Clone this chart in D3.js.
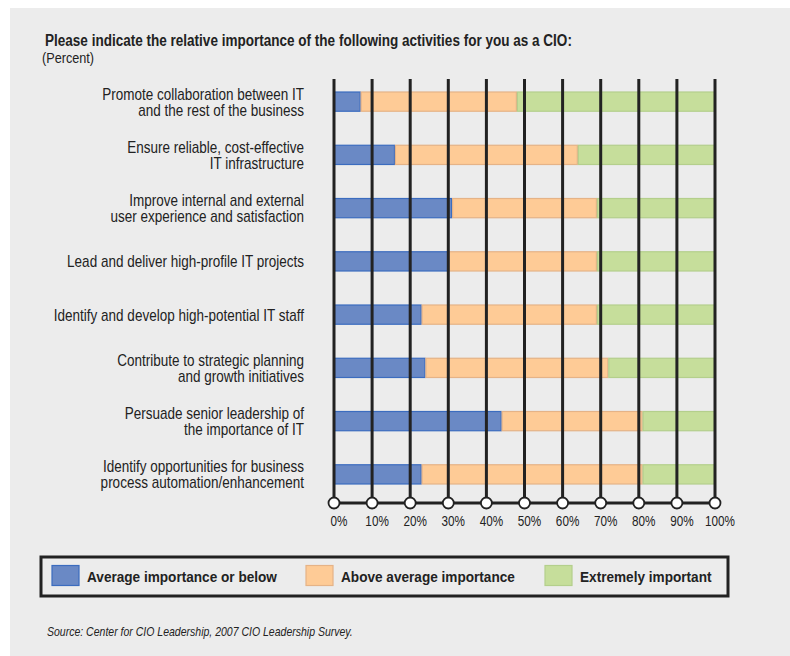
<!DOCTYPE html>
<html>
<head>
<meta charset="utf-8">
<script src="https://cdn.jsdelivr.net/npm/d3@7"></script>
<style>
  body { margin: 0; background: #fff; }
  svg text { font-family: "Liberation Sans", Arial, sans-serif; fill: #222; }
</style>
</head>
<body>
<script>
// categories, top to bottom (two lines each where the original wraps)
var categories = [
  ["Promote collaboration between IT", "and the rest of the business"],
  ["Ensure reliable, cost-effective", "IT infrastructure"],
  ["Improve internal and external", "user experience and satisfaction"],
  ["Lead and deliver high-profile IT projects"],
  ["Identify and develop high-potential IT staff"],
  ["Contribute to strategic planning", "and growth initiatives"],
  ["Persuade senior leadership of", "the importance of IT"],
  ["Identify opportunities for business", "process automation/enhancement"]
];
var seriesNames = ["Average importance or below", "Above average importance", "Extremely important"];
var averageOrBelow = [7, 16, 31, 30, 23, 24, 44, 23];
var aboveAverage   = [41, 48, 38, 39, 46, 48, 37, 58];
var extremely      = [52, 36, 31, 31, 31, 28, 19, 19];
var tickValues = [0, 10, 20, 30, 40, 50, 60, 70, 80, 90, 100];

var titleText = "Please indicate the relative importance of the following activities for you as a CIO:";
var sourceText = "Source: Center for CIO Leadership, 2007 CIO Leadership Survey.";

var fills   = ["#6a89c5", "#fecb96", "#c6de9b"];
var strokes = ["#3b6cbf", "#e5b387", "#b4cf8c"];

var width = 790, height = 656;
var svg = d3.select("body").append("svg")
  .attr("width", width)
  .attr("height", height);

// the original uses a condensed face; squeeze Liberation Sans to match
var measure = function(str, size, weight, style) {
  var t = svg.append("text")
    .style("font-size", size + "px")
    .style("font-weight", weight || "normal")
    .style("font-style", style || "normal")
    .text(str);
  var w = t.node().getComputedTextLength();
  t.remove();
  return w;
};

var addText = function(x, y, str, size, sx, opts) {
  opts = opts || {};
  return svg.append("text")
    .attr("transform", "translate(" + x + "," + y + ") scale(" + sx + ",1)")
    .attr("text-anchor", opts.anchor || "start")
    .style("font-size", size + "px")
    .style("font-weight", opts.weight || "normal")
    .style("font-style", opts.style || "normal")
    .text(str);
};

// panel background
svg.append("rect")
  .attr("x", 10).attr("y", 8)
  .attr("width", width - 10).attr("height", height - 8)
  .attr("fill", "#ececec");

var labelScale  = 202 / measure(categories[0][0], 16);
var titleScale  = 527 / measure(titleText, 17, "bold");
var legendScale = 190 / measure(seriesNames[0], 15.5, "bold");
var tickScale   = 30 / measure("100%", 14);
var sourceScale = 306 / measure(sourceText, 13, "normal", "italic");

// title
addText(45, 46, titleText, 17, titleScale, { weight: "bold" });
addText(42, 63, "(Percent)", 15, labelScale);

var x = d3.scaleLinear().domain([0, 100]).range([334, 715]);
var y = d3.scaleBand()
  .domain(d3.range(categories.length))
  .range([75, 501])
  .paddingInner(0.62)
  .paddingOuter(0.31);

// stacked data
var rows = categories.map(function(c, i) {
  return { i: i, v0: averageOrBelow[i], v1: aboveAverage[i], v2: extremely[i] };
});
var stack = d3.stack().keys(["v0", "v1", "v2"]);
var layers = stack(rows);

var g = svg.append("g");
layers.forEach(function(layer, k) {
  g.selectAll(".bar" + k)
    .data(layer)
    .enter()
    .append("rect")
    .attr("x", function(d) { return x(d[0]) + 0.5; })
    .attr("y", function(d) { return y(d.data.i) + 0.5; })
    .attr("width", function(d) { return x(d[1]) - x(d[0]) - 1; })
    .attr("height", y.bandwidth() - 1)
    .attr("fill", fills[k])
    .attr("stroke", strokes[k])
    .attr("stroke-width", 1.2);
});

// vertical grid lines drawn over the bars
svg.selectAll(".grid")
  .data(tickValues)
  .enter()
  .append("line")
  .attr("x1", function(d) { return x(d); })
  .attr("x2", function(d) { return x(d); })
  .attr("y1", 79)
  .attr("y2", 503)
  .attr("stroke", "#222")
  .attr("stroke-width", 3);

// axis base line
svg.append("line")
  .attr("x1", x(0)).attr("x2", x(100))
  .attr("y1", 503).attr("y2", 503)
  .attr("stroke", "#222")
  .attr("stroke-width", 3);

svg.selectAll(".dot")
  .data(tickValues)
  .enter()
  .append("circle")
  .attr("cx", function(d) { return x(d); })
  .attr("cy", 503)
  .attr("r", 5.5)
  .attr("fill", "#fff")
  .attr("stroke", "#222")
  .attr("stroke-width", 1.8);

tickValues.forEach(function(d) {
  addText(x(d) + 5, 526, d + "%", 14, tickScale, { anchor: "middle" });
});

// category labels
categories.forEach(function(lines, i) {
  var cy = y(i) + y.bandwidth() / 2;
  lines.forEach(function(line, j) {
    var off = (j - (lines.length - 1) / 2) * 16;
    addText(304, cy + off + 6, line, 16, labelScale, { anchor: "end" });
  });
});

// legend
svg.append("rect")
  .attr("x", 41).attr("y", 557)
  .attr("width", 687).attr("height", 39)
  .attr("fill", "none")
  .attr("stroke", "#222")
  .attr("stroke-width", 3);

var legendX = [52, 306, 545];
seriesNames.forEach(function(name, k) {
  svg.append("rect")
    .attr("x", legendX[k]).attr("y", 565.5)
    .attr("width", 27).attr("height", 20)
    .attr("fill", fills[k])
    .attr("stroke", strokes[k])
    .attr("stroke-width", 1.2);
  addText(legendX[k] + 35, 582, name, 15.5, legendScale, { weight: "bold" });
});

// source
addText(47, 636, sourceText, 13, sourceScale, { style: "italic" });
</script>
</body>
</html>
